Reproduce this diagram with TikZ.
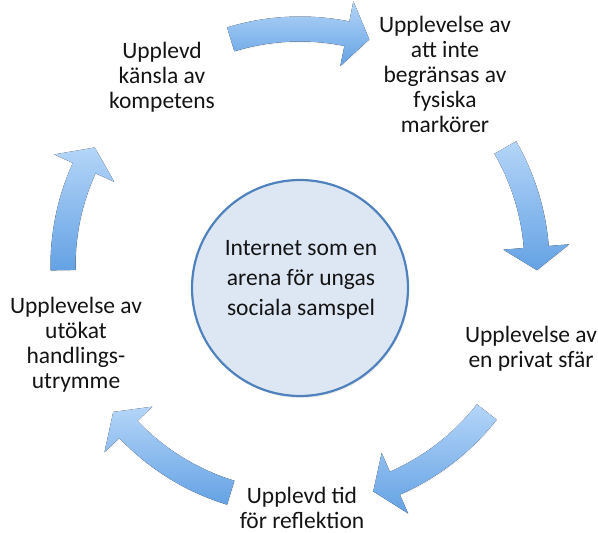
\documentclass[tikz,border=0pt]{standalone}
\usepackage{fontspec}
\setmainfont{Carlito}
\usetikzlibrary{calc,shadows}
\definecolor{arrowlight}{RGB}{180,213,248}
\definecolor{arrowdark}{RGB}{100,162,228}
\definecolor{hubfill}{RGB}{221,231,243}
\definecolor{hubline}{RGB}{79,129,189}
\definecolor{txt}{RGB}{20,20,20}
\tikzset{
  cyclearrowstyle/.style={top color=arrowlight, bottom color=arrowdark, draw=none,
    drop shadow={opacity=0.1, shadow xshift=0.8pt, shadow yshift=-1.2pt}},
  steplabel/.style={align=center, inner sep=0pt, text=txt,
    font=\fontsize{23.5}{25}\selectfont},
  hublabel/.style={align=center, inner sep=0pt, text=txt,
    font=\fontsize{23.5}{30}\selectfont},
  hubcircle/.style={circle, minimum size=216pt, inner sep=0pt, fill=hubfill,
    draw=hubline, line width=2.2pt,
    drop shadow={opacity=0.15, shadow xshift=1pt, shadow yshift=-2pt}}
}
% #1 tail angle, #2 tip angle (clockwise from tail to tip)
\newcommand{\cyclearrow}[2]{%
  \pgfmathsetmacro\headbase{#2+5.6}%
  \fill[cyclearrowstyle]
    ($(ring)+(#1:224.5)$) arc[start angle=#1, end angle=\headbase, radius=224.5]
    -- ($(ring)+(\headbase:204)$)
    -- ($(ring)+(#2:237)$)
    -- ($(ring)+(\headbase:270)$)
    -- ($(ring)+(\headbase:249.5)$) arc[start angle=\headbase, end angle=#1, radius=249.5]
    -- cycle;
}
\begin{document}
\begin{tikzpicture}[x=1pt,y=1pt]
\useasboundingbox (0,0) rectangle (598,533);
\coordinate (ring) at (300,267);

% curved arrows of the cycle
\cyclearrow{107}{73}
\cyclearrow{30}{-1}
\cyclearrow{-38}{-72}
\cyclearrow{-107}{-142}
\cyclearrow{181}{150}

% hub
\node[hubcircle] (hub) at (300,245) {};
\node[hublabel] (hubtext) at (301,253.5) {Internet som en\\arena för ungas\\sociala samspel};

% step labels
\node[steplabel] (kompetens) at (162,455.5) {Upplevd\\känsla av\\kompetens};
\node[steplabel] (markorer) at (445,459) {Upplevelse av\\att inte\\begränsas av\\fysiska\\markörer};
\node[steplabel] (sfar) at (531,184) {Upplevelse av\\en privat sfär};
\node[steplabel] (reflektion) at (302,25.5) {Upplevd tid\\för reflektion};
\node[steplabel] (utrymme) at (76,188) {Upplevelse av\\utökat\\handlings-\\utrymme};
\end{tikzpicture}
\end{document}
